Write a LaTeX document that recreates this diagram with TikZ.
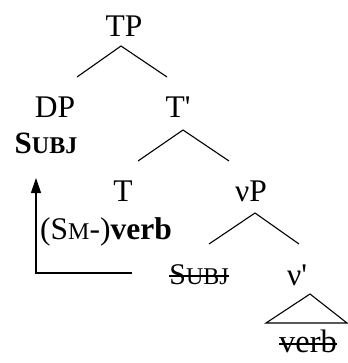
\documentclass[tikz,border=0pt]{standalone}
\usepackage{fontspec}
\setmainfont{Liberation Serif}
\usetikzlibrary{arrows.meta}
\newcommand\smallcap[1]{{\fontsize{24}{24}\selectfont #1}}
\newcommand\primemark{\textquotesingle}
\begin{document}
\begin{tikzpicture}[x={(1pt,0)},y={(0,-1pt)},
  lbl/.style={anchor=base,inner sep=0pt,font=\fontsize{31.5}{31.5}\selectfont},
  edge/.style={line width=1.1pt},
  strike/.style={line width=1.3pt}]
\useasboundingbox (0,0) rectangle (347,363);
% nodes
\node[lbl] (TP) at (124,37) {TP};
\node[lbl] (DP) at (55,118) {DP};
\node[lbl,font=\fontsize{31}{31}\selectfont\bfseries] (subj) at (46,154) {S\smallcap{UBJ}};
\node[lbl] (Tbar) at (178,118) {T\primemark};
\node[lbl] (T) at (123,201) {T};
\node[lbl,font=\fontsize{31.5}{31.5}\selectfont] (Tverb) at (106,239) {(S\smallcap{M}-)\textbf{verb}};
\node[lbl] (vP) at (251,201) {νP};
\node[lbl,font=\fontsize{30}{30}\selectfont] (subj2) at (199,284) {S\smallcap{UBJ}};
\node[lbl] (vbar) at (297,285) {ν\primemark};
\node[lbl,font=\fontsize{32.5}{32.5}\selectfont] (verb) at (308,352) {verb};
% branch coordinates
\coordinate (a1) at (121,46);
\coordinate (l1) at (77,77);
\coordinate (r1) at (167,77);
\coordinate (a2) at (183,130);
\coordinate (l2) at (138,161);
\coordinate (r2) at (229,161);
\coordinate (a3) at (255,213);
\coordinate (l3) at (209,244);
\coordinate (r3) at (299,244);
\coordinate (a4) at (310,294);
\coordinate (l4) at (266,323);
\coordinate (r4) at (347,323);
\draw[edge] (l1) -- (a1) -- (r1);
\draw[edge] (l2) -- (a2) -- (r2);
\draw[edge] (l3) -- (a3) -- (r3);
\draw[edge] (l4) -- (a4) -- (r4) -- cycle;
% strike-throughs
\draw[strike] ([yshift=8pt]subj2.base west) -- ([yshift=8pt]subj2.base east);
\draw[strike] ([yshift=8pt]verb.base west) -- ([yshift=8pt]verb.base east);
% movement arrow
\coordinate (m0) at (132,273);
\coordinate (m1) at (36,273);
\coordinate (m2) at (36,178);
\draw[edge,-{Triangle[width=10pt,length=15pt]}] (m0) -- (m1) -- (m2);
\end{tikzpicture}
\end{document}
